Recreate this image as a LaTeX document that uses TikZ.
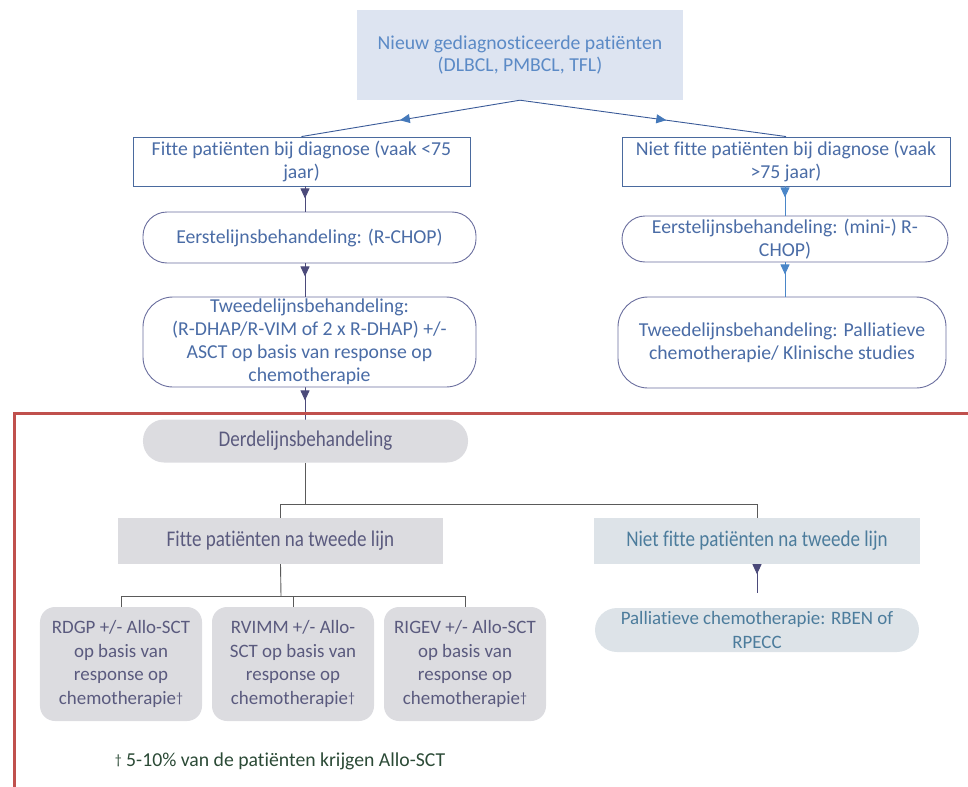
\documentclass[tikz,border=0pt]{standalone}
\usepackage{fontspec}
\setmainfont[RawFeature={-liga;-clig;-calt;-dlig}]{Carlito}
\newfontfamily\condf[FakeStretch=0.85,RawFeature={-liga;-clig;-calt;-dlig}]{Carlito}
\usetikzlibrary{arrows.meta,decorations.markings,backgrounds}
\definecolor{topfill}{HTML}{DDE4F1}
\definecolor{toptext}{HTML}{5B8AC6}
\definecolor{bluetext}{HTML}{4A6CA6}
\definecolor{blueline}{HTML}{4A6A9E}
\definecolor{purpline}{HTML}{6A6E9E}
\definecolor{darkarr}{HTML}{4B4A7A}
\definecolor{lightarr}{HTML}{4A86C8}
\definecolor{toparr}{HTML}{3A5A98}
\definecolor{grayfill}{HTML}{DCDCE0}
\definecolor{graytext}{HTML}{5A5A7E}
\definecolor{bluegrayfill}{HTML}{DDE3E8}
\definecolor{tealtext}{HTML}{4C7C9C}
\definecolor{redframe}{HTML}{C0504D}
\definecolor{foottext}{HTML}{2B4A36}
\definecolor{conn}{HTML}{5A5A5A}
\newcommand{\dg}{{\fontsize{14}{0}\selectfont\raisebox{1.5bp}{†}}}
\begin{document}
\begin{tikzpicture}[x=1bp,y=-1bp,
  every node/.style={inner sep=0pt,align=center,font=\fontsize{19.8}{23}\selectfont},
  topbox/.style={fill=topfill,text=toptext,minimum width=326bp,minimum height=90bp},
  sqbox/.style={draw=blueline,line width=0.9bp,fill=white,text=bluetext},
  rbox/.style={draw=purpline,line width=0.9bp,fill=white,text=bluetext,rounded corners=24bp},
  graybox/.style={fill=grayfill,text=graytext},
  condtext/.style={font=\condf\fontsize{22.5}{26}\selectfont},
  lowtext/.style={font=\fontsize{19}{23.5}\selectfont},
  arrmark/.style={postaction={decorate},decoration={markings,mark=at position #1 with {\arrow{Triangle[length=10bp,width=9bp]}}}},
  darr/.style={draw=darkarr,line width=0.9bp,arrmark=#1},
  larr/.style={draw=lightarr,line width=0.9bp,arrmark=#1},
  cline/.style={draw=conn,line width=0.9bp}
]
\useasboundingbox (0,0) rectangle (968,787);

% nodes
\node[topbox] (top) at (520,55) {Nieuw gediagnosticeerde patiënten\\(DLBCL, PMBCL, TFL)};
\node[sqbox,minimum width=337bp,minimum height=49bp] (fit1) at (301.5,161.5) {Fitte patiënten bij diagnose (vaak <75\\jaar)};
\node[sqbox,minimum width=328bp,minimum height=49bp] (nfit1) at (786,161.5) {Niet fitte patiënten bij diagnose (vaak\\>75 jaar)};
\node[rbox,minimum width=333bp,minimum height=51bp] (e1) at (309.5,237.5) {Eerstelijnsbehandeling: (R-CHOP)};
\node[rbox,minimum width=333bp,minimum height=90bp,rounded corners=30bp] (e2) at (309.5,342) {Tweedelijnsbehandeling:\\(R-DHAP/R-VIM of 2 x R-DHAP) +/-\\ASCT op basis van response op\\chemotherapie};
\node[rbox,minimum width=326bp,minimum height=46bp,rounded corners=23bp] (ne1) at (785,239) {Eerstelijnsbehandeling: (mini-) R-\\CHOP)};
\node[rbox,minimum width=328bp,minimum height=91bp,rounded corners=30bp] (ne2) at (782,342.5) {Tweedelijnsbehandeling: Palliatieve\\chemotherapie/ Klinische studies};

% connectors top part
\draw[draw=toparr,line width=0.9bp,postaction={decorate},decoration={markings,mark=at position 0.55 with {\arrow[lightarr!70!toparr]{Triangle[length=10bp,width=9bp]}}}] (top.south) -- (fit1.north);
\draw[draw=toparr,line width=0.9bp,postaction={decorate},decoration={markings,mark=at position 0.55 with {\arrow[lightarr!70!toparr]{Triangle[length=10bp,width=9bp]}}}] (top.south) -- (nfit1.north);
\coordinate (lx) at (305,0);
\draw[darr=12bp] (lx |- fit1.south) -- (lx |- e1.north);
\draw[darr=13bp] (lx |- e1.south) -- (lx |- e2.north);
\draw[larr=11bp] (ne1.north |- nfit1.south) -- (ne1.north);
\draw[larr=12bp] (ne1.south) -- (ne1.south |- ne2.north);

% lower part
\node[graybox,minimum width=325bp,minimum height=43bp,rounded corners=21bp,condtext] (derde) at (305.5,441) {Derdelijnsbehandeling};
\begin{pgfonlayer}{background}
\draw[darr=13bp] (lx |- e2.south) -- (lx |- derde.center);
\end{pgfonlayer}

\node[graybox,minimum width=325bp,minimum height=46bp,condtext] (fit2) at (280.5,541) {Fitte patiënten na tweede lijn};
\node[fill=bluegrayfill,text=tealtext,minimum width=326bp,minimum height=46bp,condtext] (nfit2) at (757,541) {Niet fitte patiënten na tweede lijn};
\node[fill=bluegrayfill,text=tealtext,minimum width=324bp,minimum height=44bp,rounded corners=22bp,lowtext] (pal) at (757,630) {Palliatieve chemotherapie: RBEN of\\RPECC};

\node[graybox,minimum width=162bp,minimum height=114bp,rounded corners=15bp,lowtext] (b1) at (121,664) {RDGP +/- Allo-SCT\\op basis van\\response op\\chemotherapie\dg};
\node[graybox,minimum width=162bp,minimum height=114bp,rounded corners=15bp,lowtext] (b2) at (293,664) {RVIMM +/- Allo-\\SCT op basis van\\response op\\chemotherapie\dg};
\node[graybox,minimum width=162bp,minimum height=114bp,rounded corners=15bp,lowtext] (b3) at (465,664) {RIGEV +/- Allo-SCT\\op basis van\\response op\\chemotherapie\dg};

\node[text=foottext,font=\fontsize{19.8}{23}\selectfont] (foot) at (280,761) {\dg\ 5-10\% van de patiënten krijgen Allo-SCT};

% lower connectors
\coordinate (split) at (305.5,504);
\draw[cline] (derde.south) -- (split);
\draw[cline] (fit2.north) -- (fit2.north |- split) -| (nfit2.north);
\coordinate (split2) at (281,596);
\draw[cline] (fit2.south) -- (split2);
\draw[cline] (b1.north) -- (b1.north |- split2) -| (b3.north);
\draw[cline] (b2.north) -- (b2.north |- split2);
\coordinate (palend) at (757,593);
\draw[darr=10bp] (nfit2.south) -- (palend);

% red frame
\draw[draw=redframe,line width=3bp] (970,413) -- (14,413) -- (14,790);
\end{tikzpicture}
\end{document}
